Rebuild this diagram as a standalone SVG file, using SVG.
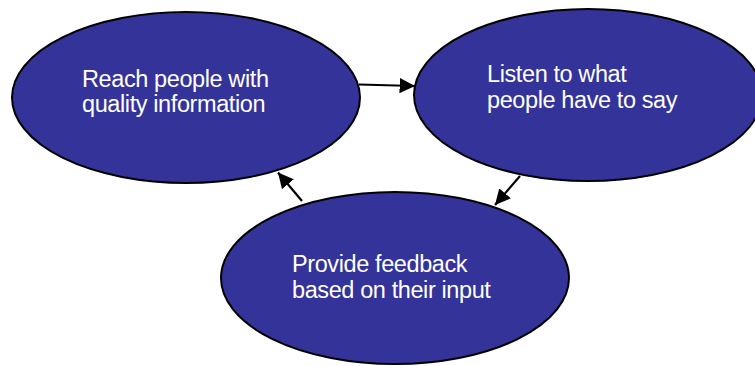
<svg xmlns="http://www.w3.org/2000/svg" width="755" height="366" viewBox="0 0 755 366">
<defs>
<style>
.node ellipse{fill:#333399;stroke:#000;stroke-width:2}
.node text{fill:#fff;font-family:"Liberation Sans",Arial,sans-serif;font-size:23.5px;letter-spacing:-0.4px}
.conn line{stroke:#000;stroke-width:2.2;fill:none}
</style>
<marker id="ah" viewBox="0 0 10 10" refX="10" refY="5" markerWidth="7" markerHeight="7" markerUnits="strokeWidth" orient="auto">
<path d="M0,0 L10,5 L0,10 z" fill="#000"/>
</marker>
</defs>
<rect width="755" height="366" fill="#fff"/>
<g id="n1" class="node">
<ellipse cx="186" cy="97.5" rx="174" ry="85.5"/>
<text x="82" y="87">Reach people with</text>
<text x="82" y="112">quality information</text>
</g>
<g id="n2" class="node">
<ellipse cx="588" cy="95" rx="174" ry="86"/>
<text x="487" y="82">Listen to what</text>
<text x="487" y="108">people have to say</text>
</g>
<g id="n3" class="node">
<ellipse cx="395" cy="278" rx="174" ry="86"/>
<text x="292" y="272">Provide feedback</text>
<text x="292" y="298">based on their input</text>
</g>
<g id="connectors" class="conn">
<line x1="359" y1="84.5" x2="415" y2="86" marker-end="url(#ah)"/>
<line x1="520" y1="176" x2="495" y2="205" marker-end="url(#ah)"/>
<line x1="302" y1="201" x2="278" y2="172.5" marker-end="url(#ah)"/>
</g>
</svg>
